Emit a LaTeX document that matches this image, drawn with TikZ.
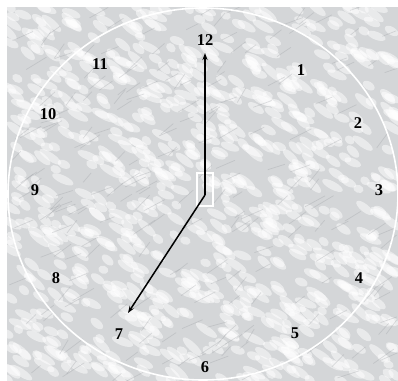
\documentclass[tikz,border=0pt]{standalone}
\usepackage{fontspec}
\setmainfont{Liberation Serif}
\usetikzlibrary{arrows.meta}

\definecolor{marble}{RGB}{212,214,216}
\definecolor{vein}{RGB}{150,153,158}

\begin{document}
\begin{tikzpicture}[x=1bp, y=-1bp,
  every node/.style={font=\bfseries\fontsize{16.5}{17}\selectfont, inner sep=0pt},
  hand/.style={-{Stealth[length=7bp, width=5bp]}, line width=1.5bp},
  rim/.style={draw=white, line width=1.6bp},
  patch/.style={fill=white, opacity=0.5},
  streak/.style={draw=vein, opacity=0.3, line width=0.7bp}
]
\useasboundingbox (0,0) rectangle (398,381);

% MARBLE BACKGROUND
\fill[marble] (7,7) rectangle (398,381);
\begin{scope}
  \clip (7,7) rectangle (398,381);
  \pgfmathsetseed{11}
  \foreach \i in {1,...,900}{
    \pgfmathsetmacro{\px}{7+391*rnd}
    \pgfmathsetmacro{\py}{7+374*rnd}
    \pgfmathsetmacro{\pa}{-20-25*rnd}
    \pgfmathsetmacro{\pr}{5+8*rnd}
    \fill[patch, rotate around={\pa:(\px,\py)}] (\px,\py) ellipse [x radius=\pr, y radius=4];
  }
  \foreach \i in {1,...,220}{
    \pgfmathsetmacro{\px}{7+391*rnd}
    \pgfmathsetmacro{\py}{7+374*rnd}
    \pgfmathsetmacro{\qx}{\px+8+14*rnd}
    \pgfmathsetmacro{\qy}{\py-5-10*rnd}
    \draw[streak] (\px,\py) -- (\qx,\qy);
  }
\end{scope}

% DIAL
\draw[rim] (203,194) ellipse [x radius=195, y radius=186];

\node (n12) at (205,40) {12};
\node (n1) at (301,70) {1};
\node (n2) at (358,123) {2};
\node (n3) at (379,190) {3};
\node (n4) at (359,278) {4};
\node (n5) at (295,333) {5};
\node (n6) at (205,367) {6};
\node (n7) at (119,334) {7};
\node (n8) at (56,278) {8};
\node (n9) at (35,190) {9};
\node (n10) at (48,114) {10};
\node (n11) at (100,64) {11};

% HANDS
\draw[white, line width=1.2bp] (197,173) rectangle (213,206);
\coordinate (c) at (205,195);
\coordinate (tip12) at (205,53);
\coordinate (tip7) at (128,313);
\draw[hand] (c) -- (tip12);
\draw[hand] (c) -- (tip7);

\end{tikzpicture}
\end{document}
